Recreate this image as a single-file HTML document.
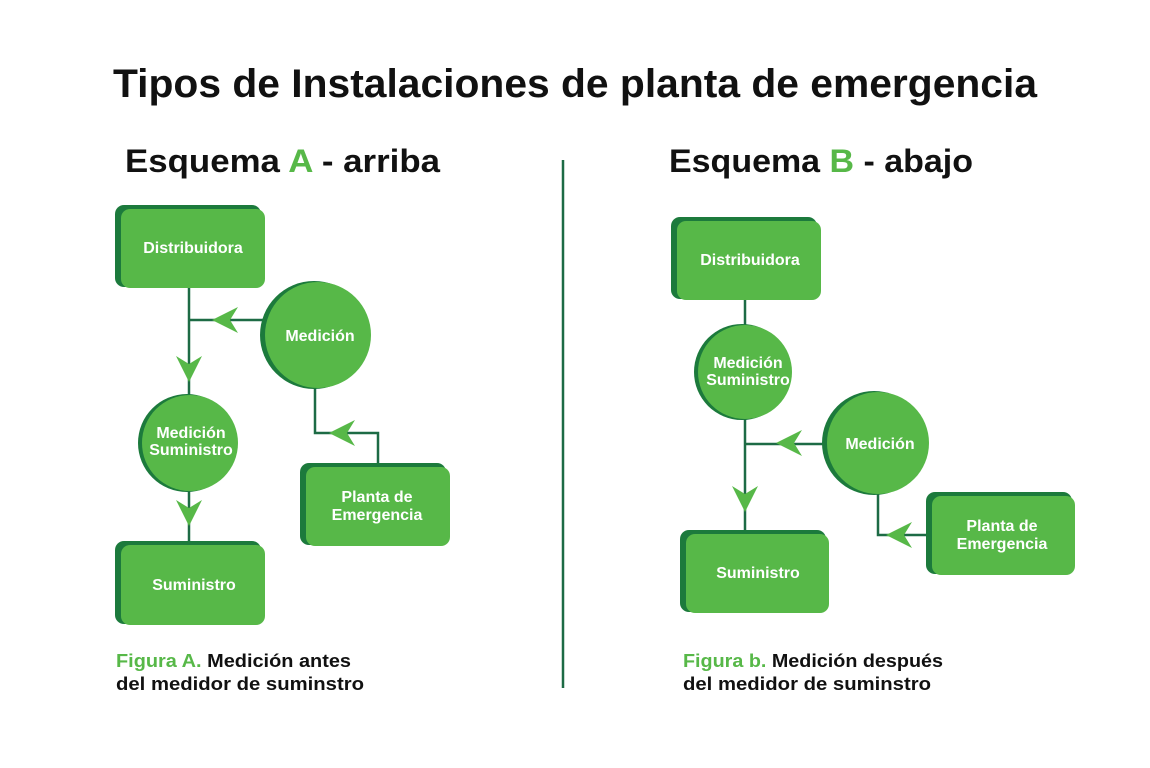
<!DOCTYPE html>
<html><head><meta charset="utf-8"><style>
html,body{margin:0;padding:0;background:#fff;}
svg{display:block;font-family:"Liberation Sans",sans-serif;font-weight:bold;}
</style></head><body>
<svg width="1150" height="768" viewBox="0 0 1150 768" xmlns="http://www.w3.org/2000/svg">
<defs>
<style>
.sh{fill:#1c7a3c}.fg{fill:#57b848}.ln{stroke:#1d6b45;stroke-width:2.5;fill:none}.ar{fill:#57b848}
.wt{fill:#fff;font-size:16px;text-anchor:middle}
</style>
</defs>
<text x="113" y="97" font-size="40" textLength="924" lengthAdjust="spacingAndGlyphs" fill="#111">Tipos de Instalaciones de planta de emergencia</text>
<text x="125" y="172" font-size="32" textLength="315" lengthAdjust="spacingAndGlyphs" fill="#111">Esquema <tspan fill="#57b848">A</tspan> - arriba</text>
<text x="669" y="172" font-size="32" textLength="304" lengthAdjust="spacingAndGlyphs" fill="#111">Esquema <tspan fill="#57b848">B</tspan> - abajo</text>
<line x1="563" y1="160" x2="563" y2="688" stroke="#1d6b45" stroke-width="2.5"/>

<!-- A lines -->
<polyline class="ln" points="189,288 189,395"/>
<polyline class="ln" points="189,320 266,320"/>
<polyline class="ln" points="189,490 189,542"/>
<polyline class="ln" points="315,388 315,433 378,433 378,465"/>
<polygon class="ar" points="212,320 238,307 230,320 238,333"/>
<polygon class="ar" points="182,382 169,356 182,364 195,356" transform="translate(7,0)"/>
<polygon class="ar" points="189,526 176,500 189,508 202,500"/>
<polygon class="ar" points="329,433 355,420 347,433 355,446"/>

<!-- A nodes -->
<rect class="sh" x="115" y="205" width="146" height="82" rx="9"/>
<rect class="fg" x="121" y="209" width="144" height="79" rx="9"/>
<text class="wt" x="193" y="253">Distribuidora</text>
<circle class="sh" cx="314" cy="335" r="54"/>
<circle class="fg" cx="318" cy="335" r="53"/>
<text class="wt" x="320" y="341" font-size="15">Medición</text>
<circle class="sh" cx="187" cy="443" r="49"/>
<circle class="fg" cx="190" cy="443" r="48"/>
<text class="wt" x="191" y="438" font-size="13">Medición</text>
<text class="wt" x="191" y="455" font-size="13">Suministro</text>
<rect class="sh" x="115" y="541" width="146" height="83" rx="9"/>
<rect class="fg" x="121" y="545" width="144" height="80" rx="9"/>
<text class="wt" x="194" y="590">Suministro</text>
<rect class="sh" x="300" y="463" width="146" height="82" rx="9"/>
<rect class="fg" x="306" y="467" width="144" height="79" rx="9"/>
<text class="wt" x="377" y="502">Planta de</text>
<text class="wt" x="377" y="520">Emergencia</text>

<!-- B lines -->
<polyline class="ln" points="745,300 745,326"/>
<polyline class="ln" points="745,418 745,531"/>
<polyline class="ln" points="745,444 827,444"/>
<polyline class="ln" points="878,494 878,535 929,535"/>
<polygon class="ar" points="776,443 802,430 794,443 802,456"/>
<polygon class="ar" points="745,512 732,486 745,494 758,486"/>
<polygon class="ar" points="886,535 912,522 904,535 912,548"/>

<!-- B nodes -->
<rect class="sh" x="671" y="217" width="146" height="82" rx="9"/>
<rect class="fg" x="677" y="221" width="144" height="79" rx="9"/>
<text class="wt" x="750" y="265">Distribuidora</text>
<circle class="sh" cx="742" cy="372" r="48"/>
<circle class="fg" cx="745" cy="372" r="47"/>
<text class="wt" x="748" y="368" font-size="13">Medición</text>
<text class="wt" x="748" y="385" font-size="13">Suministro</text>
<circle class="sh" cx="874" cy="443" r="52"/>
<circle class="fg" cx="878" cy="443" r="51"/>
<text class="wt" x="880" y="449" font-size="15">Medición</text>
<rect class="sh" x="680" y="530" width="146" height="82" rx="9"/>
<rect class="fg" x="686" y="534" width="143" height="79" rx="9"/>
<text class="wt" x="758" y="578">Suministro</text>
<rect class="sh" x="926" y="492" width="146" height="82" rx="9"/>
<rect class="fg" x="932" y="496" width="143" height="79" rx="9"/>
<text class="wt" x="1002" y="531">Planta de</text>
<text class="wt" x="1002" y="549">Emergencia</text>

<!-- captions -->
<text x="116" y="667" font-size="18" textLength="235" lengthAdjust="spacingAndGlyphs" fill="#111"><tspan fill="#57b848">Figura A.</tspan> Medición antes</text>
<text x="116" y="690" font-size="18" textLength="248" lengthAdjust="spacingAndGlyphs" fill="#111">del medidor de suminstro</text>
<text x="683" y="667" font-size="18" textLength="260" lengthAdjust="spacingAndGlyphs" fill="#111"><tspan fill="#57b848">Figura b.</tspan> Medición después</text>
<text x="683" y="690" font-size="18" textLength="248" lengthAdjust="spacingAndGlyphs" fill="#111">del medidor de suminstro</text>
</svg>
</body></html>
